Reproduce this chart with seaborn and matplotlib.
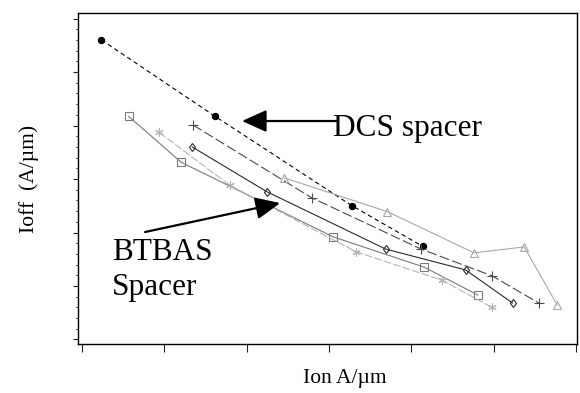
import numpy as np
import pandas as pd
import matplotlib
matplotlib.use("Agg")
import matplotlib.pyplot as plt
from matplotlib.ticker import MultipleLocator, NullFormatter
import seaborn as sns

# ========================
# DATA (arbitrary units)
# ========================
dcs_x = [0.24, 1.62, 3.28, 4.14]
dcs_y = [4.60, 3.17, 1.50, 0.74]

square_x = [0.57, 1.21, 3.05, 4.16, 4.81]
square_y = [3.17, 2.31, 0.92, 0.35, -0.17]

star_x = [0.94, 1.80, 3.33, 4.37, 4.98]
star_y = [2.87, 1.88, 0.64, 0.11, -0.40]

diamond_x = [1.34, 2.25, 3.69, 4.66, 5.23]
diamond_y = [2.60, 1.76, 0.69, 0.30, -0.32]

plus_x = [1.35, 2.79, 4.12, 4.98, 5.55]
plus_y = [3.01, 1.65, 0.69, 0.19, -0.32]

tri_x = [2.46, 3.71, 4.76, 5.37, 5.77]
tri_y = [2.02, 1.39, 0.62, 0.73, -0.35]

x_label = "Ion A/µm"
y_label = "Ioff  (A/µm)"

# ========================
# STYLE
# ========================
sns.set_style("ticks")
plt.rcParams["font.family"] = ["Liberation Serif", "DejaVu Serif"]
plt.rcParams["text.color"] = "black"
plt.rcParams["axes.labelcolor"] = "black"

fig = plt.figure(figsize=(5.8, 3.93), dpi=100)
ax = fig.add_axes([0.1345, 0.1247, 0.8603, 0.8422])

series = [
    # x, y, color, marker, marker size, face, dashes
    (dcs_x, dcs_y, "black", "o", 4.5, "black", (4, 3)),
    (square_x, square_y, "#7a7a7a", "s", 5.5, "none", None),
    (star_x, star_y, "#b4b4b4", (6, 2, 0), 6.0, "none", (7, 2)),
    (diamond_x, diamond_y, "#2a2a2a", "d", 4.5, "none", None),
    (plus_x, plus_y, "#4a4a4a", "+", 6.5, "none", (9, 3)),
    (tri_x, tri_y, "#a8a8a8", "^", 5.5, "none", None),
]

for xs, ys, col, mk, ms, face, dash in series:
    df = pd.DataFrame({"x": xs, "y": ys})
    kws = dict(color=col, marker=mk, markersize=ms, markerfacecolor=face,
               markeredgecolor=col, markeredgewidth=0.8, linewidth=0.8)
    if dash is not None:
        kws["dashes"] = dash
    sns.lineplot(data=df, x="x", y="y", sort=False, estimator=None, ax=ax, **kws)

# ========================
# AXES
# ========================
ax.set_xlim(-0.045, 6.011)
ax.set_ylim(-1.084, 5.103)
ax.xaxis.set_major_locator(MultipleLocator(1))
ax.yaxis.set_major_locator(MultipleLocator(1))
ax.yaxis.set_minor_locator(MultipleLocator(0.2))
ax.xaxis.set_major_formatter(NullFormatter())
ax.yaxis.set_major_formatter(NullFormatter())
ax.tick_params(axis="x", which="major", direction="out", length=5.8, width=0.8, color="#222222")
ax.tick_params(axis="y", which="major", direction="out", length=3.6, width=0.8, color="#222222")
ax.tick_params(axis="y", which="minor", direction="out", length=1.8, width=0.8, color="#222222")
ax.tick_params(axis="x", which="minor", length=0)
for sp in ax.spines.values():
    sp.set_visible(True)
    sp.set_color("black")
    sp.set_linewidth(1.0)

ax.set_xlabel(x_label, fontsize=15.5)
ax.set_ylabel(y_label, fontsize=15.5)
ax.xaxis.set_label_coords(0.535, -0.075)
ax.yaxis.set_label_coords(-0.078, 0.5)

# ========================
# ANNOTATIONS
# ========================
arrow = dict(arrowstyle="-|>,head_length=1.0,head_width=0.45", mutation_scale=15,
             color="black", lw=1.6, shrinkA=0, shrinkB=0)
ax.annotate("", xy=(1.945, 3.084), xytext=(3.09, 3.084), arrowprops=arrow)
ax.annotate("", xy=(2.408, 1.551), xytext=(0.769, 1.009), arrowprops=arrow)

ax.text(3.05, 2.804, "DCS spacer", fontsize=22.5, ha="left", va="baseline")
ax.text(0.368, 0.486, "BTBAS", fontsize=22.5, ha="left", va="baseline")
ax.text(0.368, -0.168, "Spacer", fontsize=22.5, ha="left", va="baseline")

plt.savefig("out.png", dpi=100)
